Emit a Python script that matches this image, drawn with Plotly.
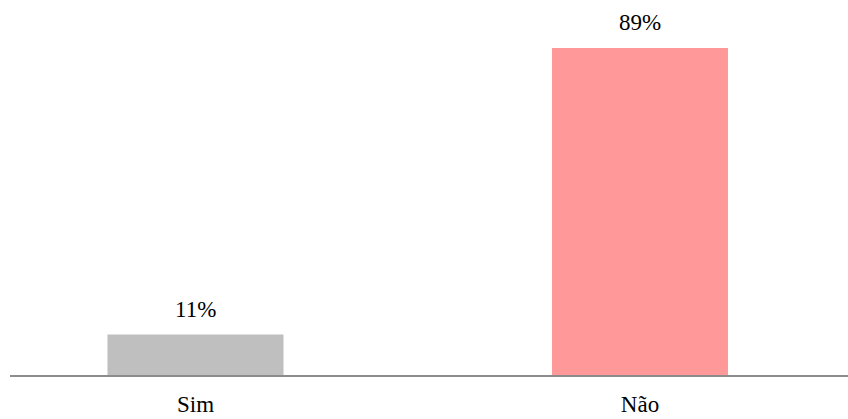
import plotly.graph_objects as go

# Survey answers and their shares (%)
categories = ["Sim", "Não"]
shares = [11, 89]
bar_colors = ["#bfbfbf", "#ff9999"]

fig = go.Figure()
fig.add_trace(go.Bar(
    x=categories,
    y=shares,
    marker=dict(color=bar_colors, line=dict(width=0)),
    width=0.396,
    hoverinfo="skip",
))

# Percentage labels above each bar
for cat, val in zip(categories, shares):
    fig.add_annotation(
        x=cat, y=val, text=f"{val}%", showarrow=False,
        yanchor="bottom", yshift=11,
        font=dict(family="Liberation Serif", size=23, color="#000000"),
    )

fig.update_layout(
    width=848, height=419,
    margin=dict(l=10, r=0, t=0, b=44),
    paper_bgcolor="white", plot_bgcolor="white",
    showlegend=False,
    font=dict(family="Liberation Serif", size=23, color="#000000"),
    xaxis=dict(
        type="category",
        range=[-0.4173, 1.468],
        automargin=False,
        showline=True, linecolor="#8c8c8c", linewidth=2,
        showgrid=False, zeroline=False,
        ticks="", ticklabelstandoff=7,
        tickfont=dict(family="Liberation Serif", size=23, color="#000000"),
    ),
    yaxis=dict(
        range=[0, 102.07],
        automargin=False,
        visible=False, showgrid=False, zeroline=False,
    ),
)

fig.write_html("out.html")
